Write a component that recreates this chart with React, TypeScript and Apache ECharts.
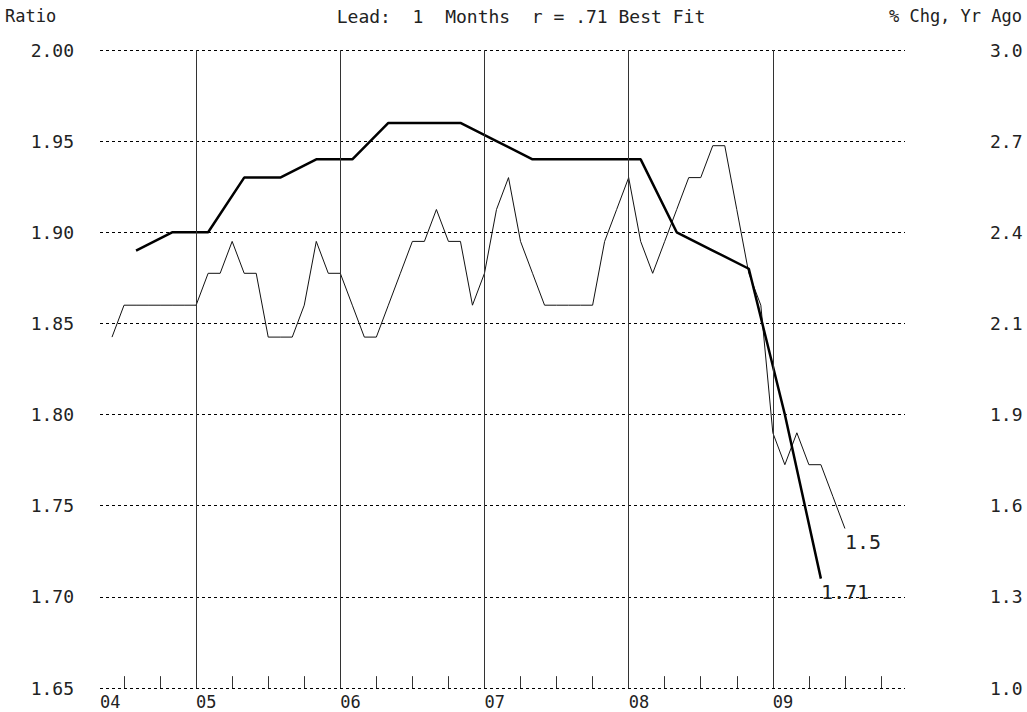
import { useEffect, useRef } from "react";
import * as echarts from "echarts";

// ---- data ----
const yearLabels = ["04", "05", "06", "07", "08", "09"];
const yearStarts = [12, 24, 36, 48, 60];
const quarterTicks = [6, 9, 15, 18, 21, 27, 30, 33, 39, 42, 45, 51, 54, 57, 63, 66, 69];
const rightTickLabels = ["1.0", "1.3", "1.6", "1.9", "2.1", "2.4", "2.7", "3.0"];

// % Chg, Yr Ago (thin line, right axis), monthly from month index 5 (Jun 2004)
const pctChgStart = 5;
const pctChgValues = [
  2.1, 2.2, 2.2, 2.2, 2.2, 2.2, 2.2, 2.2, // Jun04 - Jan05
  2.3, 2.3, 2.4, 2.3, 2.3, 2.1, 2.1, 2.1, 2.2, 2.4, 2.3, // Feb05 - Dec05
  2.3, 2.2, 2.1, 2.1, 2.2, 2.3, 2.4, 2.4, 2.5, 2.4, 2.4, 2.2, // Jan06 - Dec06
  2.3, 2.5, 2.6, 2.4, 2.3, 2.2, 2.2, 2.2, 2.2, 2.2, 2.4, 2.5, // Jan07 - Dec07
  2.6, 2.4, 2.3, 2.4, 2.5, 2.6, 2.6, 2.7, 2.7, 2.5, 2.3, 2.2, // Jan08 - Dec08
  1.8, 1.7, 1.8, 1.7, 1.7, 1.6, 1.5, // Jan09 - Jul09
];

// Ratio (thick line, left axis), quarterly
const ratioMonths = [7, 10, 13, 16, 19, 22, 25, 28, 31, 34, 37, 40, 43, 46, 49, 52, 55, 58, 61, 64];
const ratioValues = [
  1.89, 1.9, 1.9, 1.93, 1.93, 1.94, 1.94, 1.96, 1.96, 1.96,
  1.95, 1.94, 1.94, 1.94, 1.94, 1.9, 1.89, 1.88, 1.8, 1.71,
];

const FONT = '"DejaVu Sans Mono", "Liberation Mono", monospace';
const TXT = "#222";

export default function App() {
  const ref = useRef<HTMLDivElement>(null);

  useEffect(() => {
    document.body.style.margin = "0";
    const chart = echarts.init(ref.current!, null, { renderer: "svg" });

    const pctData = pctChgValues.map((v, i) => [pctChgStart + i, v]);
    const ratioData = ratioMonths.map((m, i) => [m, ratioValues[i]]);

    const option: any = {
      animation: false,
      backgroundColor: "#ffffff",
      grid: { left: 100, right: 122, top: 50, bottom: 24, containLabel: false },
      graphic: [
        {
          type: "text",
          left: 5,
          top: 7,
          style: { text: "Ratio", fontFamily: FONT, fontSize: 17, fill: TXT },
        },
        {
          type: "text",
          x: 521,
          y: 16,
          style: {
            text: "Lead:  1  Months  r = .71 Best Fit",
            fontFamily: FONT,
            fontSize: 18,
            fill: TXT,
            align: "center",
            verticalAlign: "middle",
          },
        },
        {
          type: "text",
          x: 1022,
          y: 16,
          style: {
            text: "% Chg, Yr Ago",
            fontFamily: FONT,
            fontSize: 17,
            fill: TXT,
            align: "right",
            verticalAlign: "middle",
          },
        },
      ],
      xAxis: {
        type: "value",
        min: 4,
        max: 71,
        interval: 1,
        axisLine: { show: false },
        axisTick: { show: false },
        splitLine: { show: false },
        axisLabel: {
          formatter: (v: number) => {
            if (v === 4) return yearLabels[0];
            if (v % 12 === 0) return yearLabels[v / 12] ?? "";
            return "";
          },
          align: "left",
          margin: 5,
          fontFamily: FONT,
          fontSize: 17,
          color: TXT,
        },
      },
      yAxis: [
        {
          type: "value",
          position: "left",
          min: 1.65,
          max: 2.0,
          interval: 0.05,
          axisLine: { show: false },
          axisTick: { show: false },
          axisLabel: {
            formatter: (v: number) => v.toFixed(2),
            margin: 26,
            fontFamily: FONT,
            fontSize: 18,
            color: TXT,
          },
          splitLine: { show: true, lineStyle: { type: [3, 3], color: "#000", width: 1 } },
        },
        { type: "value", position: "right", min: 1, max: 3, show: false },
        {
          type: "value",
          position: "right",
          min: 0,
          max: 7,
          interval: 1,
          axisLine: { show: false },
          axisTick: { show: false },
          splitLine: { show: false },
          axisLabel: {
            formatter: (v: number) => rightTickLabels[Math.round(v)],
            margin: 85,
            align: "left",
            fontFamily: FONT,
            fontSize: 18,
            color: TXT,
          },
        },
      ],
      series: [
        {
          name: "% Chg, Yr Ago",
          type: "line",
          yAxisIndex: 1,
          data: pctData,
          symbol: "none",
          lineStyle: { color: "#111", width: 1 },
          endLabel: {
            show: true,
            formatter: (p: any) => String(p.value[1]),
            distance: 0,
            offset: [0, 13],
            fontFamily: FONT,
            fontSize: 20,
            color: TXT,
          },
          markLine: {
            silent: true,
            symbol: ["none", "none"],
            label: { show: false },
            lineStyle: { color: "#333", type: "solid", width: 1 },
            data: yearStarts.map((m) => ({ xAxis: m })),
          },
          z: 3,
        },
        {
          name: "Ratio",
          type: "line",
          yAxisIndex: 0,
          data: ratioData,
          symbol: "none",
          lineStyle: { color: "#000", width: 2.5 },
          endLabel: {
            show: true,
            formatter: (p: any) => String(p.value[1]),
            distance: 0,
            offset: [0, 13],
            fontFamily: FONT,
            fontSize: 20,
            color: TXT,
          },
          markLine: {
            silent: true,
            symbol: ["none", "none"],
            label: { show: false },
            lineStyle: { color: "#333", type: "solid", width: 1 },
            data: quarterTicks.map((q) => [
              { coord: [q, 1.65] },
              { coord: [q, 1.6565] },
            ]),
          },
          z: 4,
        },
      ],
    };

    chart.setOption(option);
    return () => chart.dispose();
  }, []);

  return (
    <div
      ref={ref}
      style={{ position: "fixed", left: 0, top: 0, width: 1027, height: 712 }}
    />
  );
}
